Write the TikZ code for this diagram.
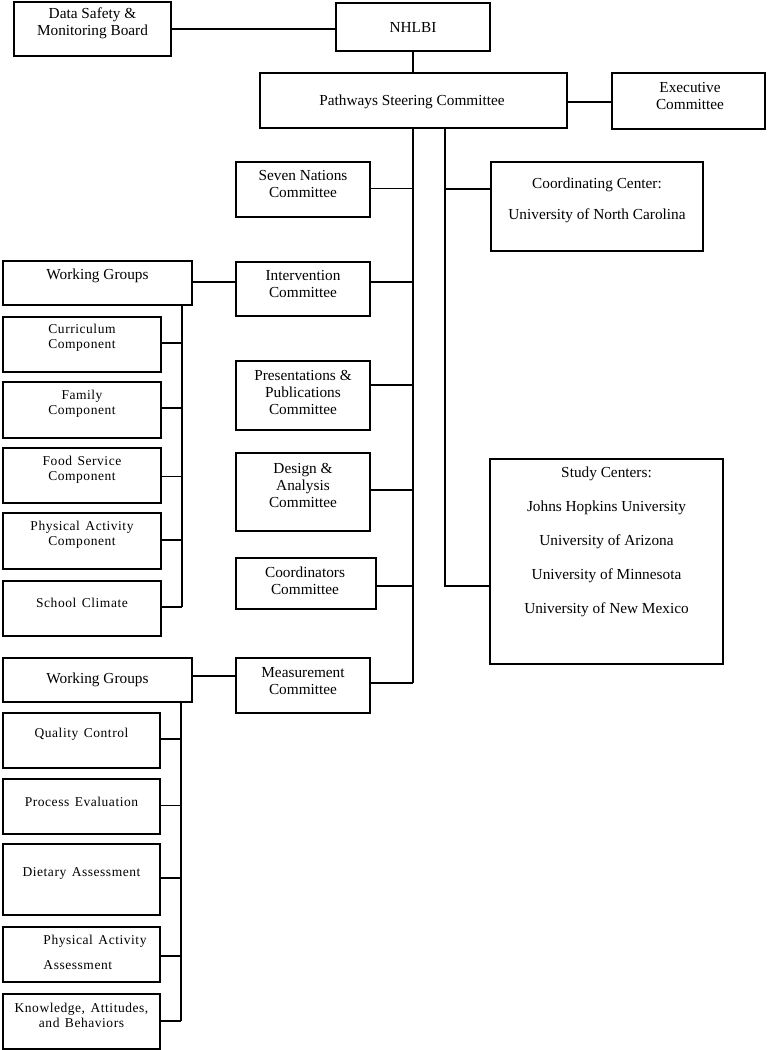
\documentclass[tikz,border=0pt]{standalone}
\usepackage{fontspec}
\setmainfont{Liberation Serif}
\newfontfamily\spc[LetterSpace=4,WordSpace=1.4]{Liberation Serif}
\newcommand\mkbox[5]{\node[box, minimum width={(#4)-(#2)}, minimum height={(#5)-(#3)}] (#1) at ({((#2)+(#4))/2},{((#3)+(#5))/2}) {};}
\tikzset{
  box/.style={draw, rectangle, line width=1.6pt, inner sep=0pt},
  txt/.style={font=\fontsize{15.3}{17}\selectfont, align=center, inner sep=0pt},
  stxt/.style={font=\spc\fontsize{13.5}{15}\selectfont, align=center, inner sep=0pt},
  wire/.style={line width=1.6pt}
}
\begin{document}
\begin{tikzpicture}[x=1pt,y=-1pt]
\useasboundingbox (0,0) rectangle (769,1050);
% boxes
\mkbox{dsmb}{14}{2}{171}{56}
\mkbox{nhlbi}{336}{3}{490}{51}
\mkbox{steer}{260}{73}{567}{128}
\mkbox{exec}{612}{73}{765}{129}
\mkbox{coord}{491}{162}{703}{251}
\mkbox{seven}{236}{162}{370}{217}
\mkbox{wga}{3}{261}{192}{305}
\mkbox{interv}{236}{262}{370}{316}
\mkbox{curric}{3}{317}{161}{372}
\mkbox{family}{3}{382}{161}{438}
\mkbox{food}{3}{448}{161}{503}
\mkbox{pac}{3}{513}{161}{569}
\mkbox{school}{3}{581}{161}{636}
\mkbox{present}{236}{361}{370}{430}
\mkbox{design}{236}{453}{370}{531}
\mkbox{coordc}{236}{558}{376}{609}
\mkbox{wgb}{3}{658}{192}{702}
\mkbox{meas}{236}{658}{370}{713}
\mkbox{qc}{3}{713}{160}{768}
\mkbox{pe}{3}{779}{160}{834}
\mkbox{da}{3}{844}{160}{915}
\mkbox{paa}{3}{927}{160}{982}
\mkbox{kab}{3}{994}{160}{1049}
\mkbox{study}{490}{459}{723}{664}
% texts
\node[txt] (dsmb-t) at ([yshift=6pt]dsmb.center) {Data Safety \&\\Monitoring Board};
\node[txt] (nhlbi-t) at ([yshift=-1pt]nhlbi.center) {NHLBI};
\node[txt] (steer-t) at ([xshift=-1.5pt,yshift=-1.5pt]steer.center) {Pathways Steering Committee};
\node[txt] (exec-t) at ([xshift=1.5pt,yshift=4.5pt]exec.center) {Executive\\Committee};
\node[txt] (coord-t) at ([yshift=6pt]coord.center) {Coordinating Center:\\[14pt]University of North Carolina};
\node[txt] (seven-t) at ([yshift=5pt]seven.center) {Seven Nations\\Committee};
\node[txt] (wga-t) at ([yshift=7pt]wga.center) {Working Groups};
\node[txt] (interv-t) at ([yshift=4.5pt]interv.center) {Intervention\\Committee};
\node[stxt] (curric-t) at ([yshift=7pt]curric.center) {Curriculum\\Component};
\node[stxt] (family-t) at ([yshift=6.5pt]family.center) {Family\\Component};
\node[stxt] (food-t) at ([yshift=6pt]food.center) {Food Service\\Component};
\node[stxt] (pac-t) at ([yshift=6.5pt]pac.center) {Physical Activity\\Component};
\node[stxt] (school-t) at ([yshift=5.5pt]school.center) {School Climate};
\node[txt] (present-t) at ([yshift=3pt]present.center) {Presentations \&\\Publications\\Committee};
\node[txt] (design-t) at ([yshift=7pt]design.center) {Design \&\\Analysis\\Committee};
\node[txt] (coordc-t) at ([xshift=-1pt,yshift=2.5pt]coordc.center) {Coordinators\\Committee};
\node[txt] (wgb-t) at (wgb.center) {Working Groups};
\node[txt] (meas-t) at ([yshift=4.5pt]meas.center) {Measurement\\Committee};
\node[stxt] (qc-t) at ([yshift=6.5pt]qc.center) {Quality Control};
\node[stxt] (pe-t) at ([yshift=4.5pt]pe.center) {Process Evaluation};
\node[stxt] (da-t) at ([yshift=6.5pt]da.center) {Dietary Assessment};
\node[stxt, align=left] (paa-t) at ([xshift=13.5pt,yshift=2pt]paa.center) {Physical Activity\\[10pt]Assessment};
\node[stxt] (kab-t) at ([yshift=6.5pt]kab.center) {Knowledge, Attitudes,\\and Behaviors};
\node[txt] (study-t) at ([yshift=20pt]study.center) {Study Centers:\\[17pt]Johns Hopkins University\\[17pt]University of Arizona\\[17pt]University of Minnesota\\[17pt]University of New Mexico};
% junctions
\coordinate (j1) at (413,683);
\coordinate (j2) at (445,586);
\coordinate (b1) at (182,607);
\coordinate (b2) at (181,1021);
% connectors
\draw[wire] (dsmb.east) -- (dsmb.east -| nhlbi.west);
\draw[wire] (nhlbi.south -| j1) -- (steer.north -| j1);
\draw[wire] ([yshift=-1.5pt]steer.east) -- ([yshift=-1.5pt]steer.east -| exec.west);
\draw[wire] (steer.south -| j1) -- (j1);
\draw[wire] (steer.south -| j2) -- (j2) -- (j2 -| study.west);
\draw[wire] ([yshift=17.5pt]coord.west) -- ([yshift=17.5pt]coord.west -| j2);
\draw[wire] ([yshift=1pt]seven.east) -- ([yshift=1pt]seven.east -| j1);
\draw[wire] ([yshift=7pt]interv.east) -- ([yshift=7pt]interv.east -| j1);
\draw[wire] ([yshift=10.5pt]present.east) -- ([yshift=10.5pt]present.east -| j1);
\draw[wire] ([yshift=2pt]design.east) -- ([yshift=2pt]design.east -| j1);
\draw[wire] ([yshift=-2.5pt]coordc.east) -- ([yshift=-2.5pt]coordc.east -| j1);
\draw[wire] ([yshift=2.5pt]meas.east) -- (j1);
\draw[wire] ([yshift=1pt]wga.east) -- ([yshift=1pt]wga.east -| interv.west);
\draw[wire] ([yshift=4pt]wgb.east) -- ([yshift=4pt]wgb.east -| meas.west);
\draw[wire] (wga.south -| b1) -- (b1);
\draw[wire] ([yshift=1.5pt]curric.east) -- ([yshift=1.5pt]curric.east -| b1);
\draw[wire] ([yshift=2pt]family.east) -- ([yshift=2pt]family.east -| b1);
\draw[wire] ([yshift=-1pt]food.east) -- ([yshift=-1pt]food.east -| b1);
\draw[wire] ([yshift=1pt]pac.east) -- ([yshift=1pt]pac.east -| b1);
\draw[wire] (school.east |- b1) -- (b1);
\draw[wire] (wgb.south -| b2) -- (b2);
\draw[wire] ([yshift=1.5pt]qc.east) -- ([yshift=1.5pt]qc.east -| b2);
\draw[wire] ([yshift=1pt]pe.east) -- ([yshift=1pt]pe.east -| b2);
\draw[wire] ([yshift=1.5pt]da.east) -- ([yshift=1.5pt]da.east -| b2);
\draw[wire] ([yshift=-1.5pt]paa.east) -- ([yshift=-1.5pt]paa.east -| b2);
\draw[wire] (kab.east |- b2) -- (b2);
\end{tikzpicture}
\end{document}
